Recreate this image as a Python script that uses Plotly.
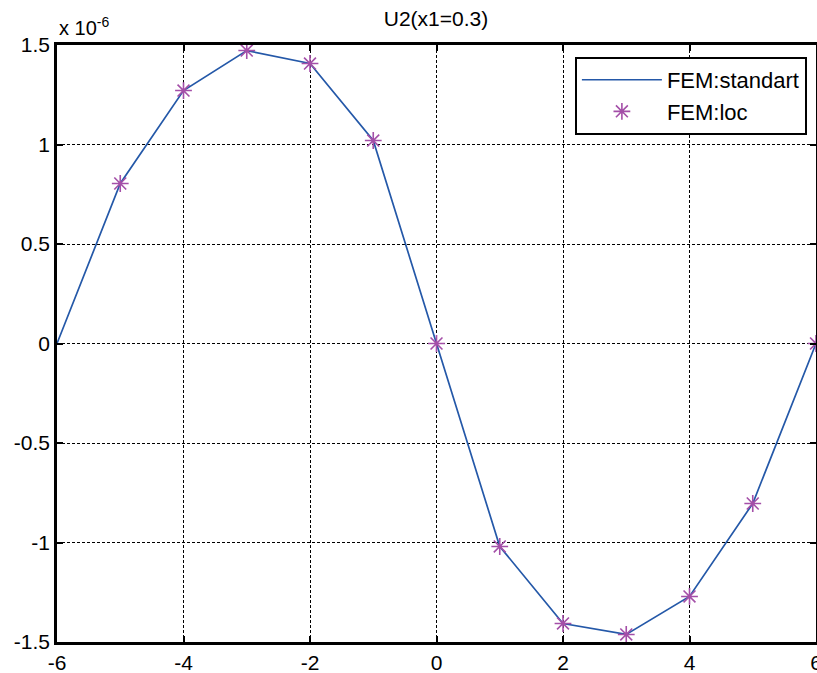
import plotly.graph_objects as go

x_line = [-6, -5, -4, -3, -2, -1, 0, 1, 2, 3, 4, 5, 6]
u2_standart = [0.0, 0.804, 1.271, 1.472, 1.407, 1.020, 0.0, -1.020, -1.407, -1.462, -1.271, -0.804, 0.0]
x_loc = [-5, -4, -3, -2, -1, 0, 1, 2, 3, 4, 5, 6]
u2_loc = [0.804, 1.271, 1.472, 1.407, 1.020, 0.0, -1.020, -1.407, -1.462, -1.271, -0.804, 0.0]
x_ticks = [-6, -4, -2, 0, 2, 4, 6]
x_tick_text = ["-6", "-4", "-2", "0", "2", "4", "6"]
y_ticks = [-1.5, -1, -0.5, 0, 0.5, 1, 1.5]
y_tick_text = ["-1.5", "-1", "-0.5", "0", "0.5", "1", "1.5"]

FAM = "Liberation Sans, Arial"
tick_font = dict(family=FAM, size=21, color="black")

fig = go.Figure()
fig.add_trace(go.Scatter(x=x_line, y=u2_standart, mode="lines", name="FEM:standart",
                         line=dict(color="#2458a8", width=1.7)))
fig.add_trace(go.Scatter(x=x_loc, y=u2_loc, mode="markers", name="FEM:loc",
                         marker=dict(symbol="asterisk-open", size=14, color="#a44fa8",
                                     line=dict(color="#a44fa8", width=1.6))))

fig.update_layout(
    width=817, height=673,
    margin=dict(l=57, r=1, t=45, b=31),
    paper_bgcolor="white", plot_bgcolor="white",
    font=dict(family=FAM, size=20, color="black"),
    showlegend=True,
    legend=dict(x=0.988, y=0.98, xanchor="right", yanchor="top",
                bgcolor="white", bordercolor="black", borderwidth=2,
                font=dict(family=FAM, size=22, color="black"),
                itemwidth=80),
    title=dict(text="U2(x1=0.3)", x=(436 / 817), xanchor="center", y=0.972, yanchor="middle",
               font=dict(family=FAM, size=21, color="black")),
)
fig.update_xaxes(range=[-6, 6], tickvals=x_ticks, ticktext=x_tick_text, ticks="inside", ticklen=6,
                 tickcolor="black", tickwidth=1.5, ticklabeloverflow="allow",
                 showline=True, linecolor="black", linewidth=2.5, mirror="ticks",
                 showgrid=True, gridcolor="black", griddash="3px,2px", gridwidth=1,
                 zeroline=False, tickfont=tick_font, automargin=False)
fig.update_yaxes(range=[-1.5, 1.5], tickvals=y_ticks, ticktext=y_tick_text, ticks="inside", ticklen=6,
                 tickcolor="black", tickwidth=1.5, ticklabeloverflow="allow",
                 showline=True, linecolor="black", linewidth=2.5, mirror="ticks",
                 showgrid=True, gridcolor="black", griddash="3px,2px", gridwidth=1,
                 zeroline=False, tickfont=tick_font, automargin=False)
fig.add_annotation(text="x 10<sup>-6</sup>", xref="paper", yref="paper", x=0, y=1, xanchor="left",
                   yanchor="bottom", showarrow=False, yshift=4,
                   font=dict(family=FAM, size=20, color="black"))
fig.write_html("out.html", config={"displayModeBar": False},
               post_script="document.body.style.margin='0';document.body.style.overflow='hidden';")
